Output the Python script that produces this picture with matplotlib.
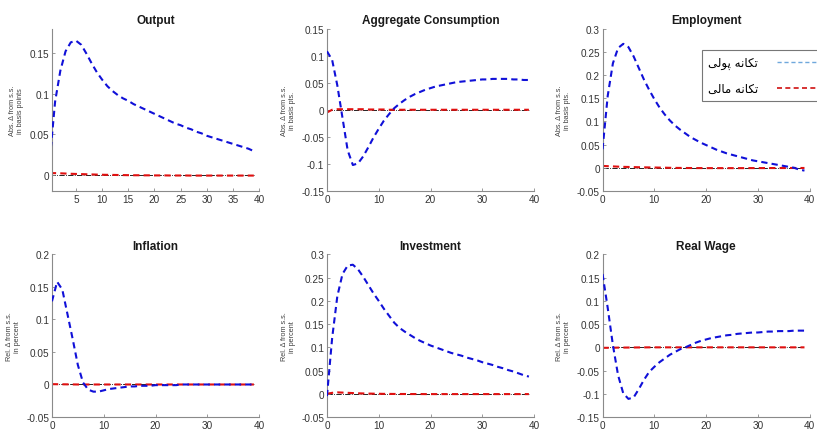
import matplotlib
matplotlib.use("Agg")
from matplotlib import pyplot as plt
from matplotlib.lines import Line2D
import numpy as np

plt.rcParams["font.family"] = ["Liberation Sans", "DejaVu Sans"]

periods = np.arange(40)
steady_state = np.zeros(40)

titles = ["Output", "Aggregate Consumption", "Employment",
          "Inflation", "Investment", "Real Wage"]
ylabels = ["Abs. \u0394 from s.s.\nin basis points",
           "Abs. \u0394 from s.s.\nin basis pts.",
           "Abs. \u0394 from s.s.\nin basis pts.",
           "Rel. \u0394 from s.s.\nin percent",
           "Rel. \u0394 from s.s.\nin percent",
           "Rel. \u0394 from s.s.\nin percent"]
legend_labels = ["تکانه پولی", "تکانه مالی"]

# monetary shock (blue)
output_m = [0.02, 0.09, 0.128, 0.152, 0.163, 0.165, 0.160, 0.149, 0.137, 0.126,
            0.117, 0.109, 0.103, 0.098, 0.094, 0.091, 0.087, 0.084, 0.081, 0.078,
            0.075, 0.072, 0.069, 0.066, 0.063, 0.061, 0.058, 0.056, 0.053, 0.051,
            0.048, 0.046, 0.044, 0.042, 0.040, 0.038, 0.036, 0.034, 0.032, 0.029]
cons_m = [0.108, 0.092, 0.045, -0.015, -0.075, -0.102, -0.099, -0.086, -0.069, -0.051,
          -0.035, -0.020, -0.008, 0.003, 0.011, 0.018, 0.024, 0.029, 0.033, 0.037,
          0.040, 0.043, 0.045, 0.047, 0.049, 0.051, 0.052, 0.053, 0.054, 0.055,
          0.056, 0.056, 0.057, 0.057, 0.057, 0.057, 0.056, 0.056, 0.055, 0.055]
empl_m = [0.04, 0.155, 0.225, 0.258, 0.267, 0.260, 0.240, 0.215, 0.190, 0.168,
          0.148, 0.130, 0.115, 0.102, 0.091, 0.082, 0.074, 0.066, 0.060, 0.054,
          0.049, 0.044, 0.039, 0.035, 0.031, 0.028, 0.025, 0.022, 0.019, 0.016,
          0.014, 0.012, 0.010, 0.008, 0.006, 0.004, 0.002, 0.000, -0.004, -0.006]
infl_m = [0.128, 0.158, 0.146, 0.108, 0.070, 0.030, 0.003, -0.008, -0.011, -0.011,
          -0.009, -0.007, -0.006, -0.005, -0.004, -0.003, -0.003, -0.002, -0.002, -0.002,
          -0.001, -0.001, -0.001, -0.001, -0.001, 0.0, 0.0, 0.0, 0.0, 0.0,
          0.0, 0.0, 0.0, 0.0, 0.0, 0.0, 0.0, 0.0, 0.0, 0.0]
inv_m = [-0.005, 0.12, 0.21, 0.258, 0.276, 0.278, 0.268, 0.252, 0.234, 0.216,
         0.200, 0.183, 0.168, 0.153, 0.142, 0.134, 0.127, 0.120, 0.114, 0.109,
         0.104, 0.100, 0.096, 0.092, 0.088, 0.085, 0.082, 0.078, 0.075, 0.072,
         0.068, 0.065, 0.062, 0.058, 0.055, 0.051, 0.048, 0.044, 0.040, 0.037]
wage_m = [0.158, 0.085, 0.005, -0.060, -0.099, -0.111, -0.108, -0.090, -0.070, -0.053,
          -0.042, -0.032, -0.024, -0.016, -0.010, -0.004, 0.000, 0.005, 0.010, 0.014,
          0.017, 0.020, 0.022, 0.024, 0.026, 0.027, 0.029, 0.030, 0.031, 0.032,
          0.032, 0.033, 0.034, 0.034, 0.035, 0.035, 0.035, 0.036, 0.036, 0.036]

# financial shock (red)
output_f = [0.002, 0.002, 0.0018, 0.0015, 0.0012, 0.001, 0.0008, 0.0006, 0.0004, 0.0002,
            0.0, -0.0001, -0.0002, -0.0003, -0.0004, -0.0005, -0.0006, -0.0006, -0.0007, -0.0007,
            -0.0008, -0.0008, -0.0008, -0.0009, -0.0009, -0.0009, -0.0009, -0.001, -0.001, -0.001,
            -0.001, -0.001, -0.001, -0.001, -0.001, -0.001, -0.001, -0.001, -0.001, -0.001]
cons_f = [-0.005, 0.0, 0.001, 0.001, 0.001, 0.001, 0.001, 0.001, 0.0005, 0.0005,
          0.0005, 0.0005, 0.0, 0.0, 0.0, 0.0, 0.0, 0.0, 0.0, 0.0,
          0.0, 0.0, 0.0, 0.0, 0.0, 0.0, 0.0, 0.0, 0.0, 0.0,
          0.0, 0.0, 0.0, 0.0, 0.0, 0.0, 0.0, 0.0, 0.0, 0.0]
empl_f = [0.004, 0.0035, 0.003, 0.0025, 0.002, 0.0018, 0.0015, 0.0012, 0.001, 0.0008,
          0.0006, 0.0004, 0.0002, 0.0, -0.0002, -0.0003, -0.0004, -0.0005, -0.0006, -0.0006,
          -0.0007, -0.0007, -0.0007, -0.0007, -0.0007, -0.0007, -0.0007, -0.0007, -0.0006, -0.0006,
          -0.0006, -0.0006, -0.0005, -0.0005, -0.0005, -0.0005, -0.0004, -0.0004, -0.0004, -0.0004]
infl_f = [0.0005, 0.0004, 0.0003, 0.0002, 0.0001, 0.0, 0.0, 0.0, 0.0, 0.0,
          0.0, 0.0, 0.0, 0.0, 0.0, 0.0, 0.0, 0.0, 0.0, 0.0,
          0.0, 0.0, 0.0, 0.0, 0.0, 0.0, 0.0, 0.0, 0.0, 0.0,
          0.0, 0.0, 0.0, 0.0, 0.0, 0.0, 0.0, 0.0, 0.0, 0.0]
inv_f = [0.0, 0.002, 0.003, 0.0025, 0.002, 0.0015, 0.001, 0.0007, 0.0004, 0.0002,
         0.0, -0.0002, -0.0003, -0.0004, -0.0005, -0.0005, -0.0006, -0.0006, -0.0006, -0.0007,
         -0.0007, -0.0007, -0.0007, -0.0007, -0.0007, -0.0007, -0.0007, -0.0007, -0.0007, -0.0007,
         -0.0007, -0.0007, -0.0007, -0.0007, -0.0007, -0.0007, -0.0007, -0.0007, -0.0007, -0.0007]
wage_f = [-0.001, -0.001, -0.0008, -0.0006, -0.0005, -0.0004, -0.0003, -0.0002, -0.0001, 0.0,
          0.0, 0.0, 0.0, 0.0, 0.0, 0.0, 0.0, 0.0, 0.0, 0.0,
          0.0, 0.0, 0.0, 0.0, 0.0, 0.0, 0.0, 0.0, 0.0, 0.0,
          0.0, 0.0, 0.0, 0.0, 0.0, 0.0, 0.0, 0.0, 0.0, 0.0]

monetary = [output_m, cons_m, empl_m, infl_m, inv_m, wage_m]
financial = [output_f, cons_f, empl_f, infl_f, inv_f, wage_f]
ylims = [(-0.02, 0.18), (-0.15, 0.15), (-0.05, 0.3),
         (-0.05, 0.2), (-0.05, 0.3), (-0.15, 0.2)]
xlims = [(0.4, 40), (0, 40), (0, 40), (0, 40), (0, 40), (0, 40)]


# simple Persian shaping (matplotlib has no complex text layout)
FORMS = {
    "\u062a": (0xFE95, 0xFE96, 0xFE97, 0xFE98),
    "\u06a9": (0xFB8E, 0xFB8F, 0xFB90, 0xFB91),
    "\u0627": (0xFE8D, 0xFE8E, None, None),
    "\u0646": (0xFEE5, 0xFEE6, 0xFEE7, 0xFEE8),
    "\u0647": (0xFEE9, 0xFEEA, 0xFEEB, 0xFEEC),
    "\u067e": (0xFB56, 0xFB57, 0xFB58, 0xFB59),
    "\u0648": (0xFEED, 0xFEEE, None, None),
    "\u0644": (0xFEDD, 0xFEDE, 0xFEDF, 0xFEE0),
    "\u06cc": (0xFBFC, 0xFBFD, 0xFBFE, 0xFBFF),
    "\u0645": (0xFEE1, 0xFEE2, 0xFEE3, 0xFEE4),
}


def shape(text):
    out = []
    for i, ch in enumerate(text):
        if ch not in FORMS:
            out.append(ch)
            continue
        prev = text[i - 1] if i > 0 else None
        nxt = text[i + 1] if i + 1 < len(text) else None
        jp = prev in FORMS and FORMS[prev][2] is not None
        jn = nxt in FORMS and FORMS[ch][2] is not None
        iso, fin, ini, med = FORMS[ch]
        if jp and jn:
            cp = med
        elif jp:
            cp = fin
        elif jn:
            cp = ini
        else:
            cp = iso
        out.append(chr(cp))
    return "".join(reversed(out))


fig = plt.figure(figsize=(8.17, 4.31), dpi=100)
lefts = [0.0636, 0.4002, 0.7375]
bottoms = [0.5545, 0.0302]
axes = []
for r in range(2):
    for c in range(3):
        axes.append(fig.add_axes([lefts[c], bottoms[r], 0.2535, 0.377]))

for k, ax in enumerate(axes):
    ax.plot(periods, steady_state, color="black", lw=0.6, ls="-.", zorder=1)
    ax.plot(periods, financial[k], color="#e01010", lw=1.5, ls=(0, (3, 2)), zorder=2)
    ax.plot(periods, monetary[k], color="#1010d8", lw=1.5, ls=(0, (3, 2)), zorder=3)
    ax.set_xlim(*xlims[k])
    ax.set_ylim(*ylims[k])
    ax.set_title(titles[k], fontsize=8.5, fontweight="bold", pad=4, color="#1a1a1a")
    ax.set_ylabel(ylabels[k], fontsize=5.2, color="#404040", labelpad=4)
    for s in ["top", "right"]:
        ax.spines[s].set_visible(False)
    for s in ["left", "bottom"]:
        ax.spines[s].set_color("#8a8a8a")
        ax.spines[s].set_linewidth(0.8)
    ax.tick_params(direction="in", length=2.5, width=0.6, colors="#8a8a8a",
                   labelcolor="#333333", labelsize=7.2, pad=2)

axes[0].set_xticks([5, 10, 15, 20, 25, 30, 35, 40])
axes[0].set_yticks([0, 0.05, 0.1, 0.15])
axes[0].set_yticklabels(["0", "0.05", "0.1", "0.15"])
for ax in axes[1:]:
    ax.set_xticks([0, 10, 20, 30, 40])
ytick_sets = [None,
              [-0.15, -0.1, -0.05, 0, 0.05, 0.1, 0.15],
              [-0.05, 0, 0.05, 0.1, 0.15, 0.2, 0.25, 0.3],
              [-0.05, 0, 0.05, 0.1, 0.15, 0.2],
              [-0.05, 0, 0.05, 0.1, 0.15, 0.2, 0.25, 0.3],
              [-0.15, -0.1, -0.05, 0, 0.05, 0.1, 0.15, 0.2]]
for k in range(1, 6):
    ticks = ytick_sets[k]
    axes[k].set_yticks(ticks)
    axes[k].set_yticklabels([("%g" % t) for t in ticks])

handles = [Line2D([], [], color="#6fa8dc", lw=1.0, ls=(0, (3, 2))),
           Line2D([], [], color="#d01010", lw=1.2, ls=(0, (3, 2)))]
leg = fig.legend(handles, [shape(t) for t in legend_labels],
                 loc="upper left", bbox_to_anchor=(702 / 817, 1 - 51 / 431),
                 markerfirst=False, handlelength=5, handletextpad=1.6,
                 frameon=True, fancybox=False,
                 borderpad=0.5, labelspacing=1.1, borderaxespad=0,
                 prop={"family": ["DejaVu Sans"], "size": 8.5})
leg.get_frame().set_edgecolor("#555555")
leg.get_frame().set_linewidth(0.8)

fig.savefig("out.png", dpi=100)
